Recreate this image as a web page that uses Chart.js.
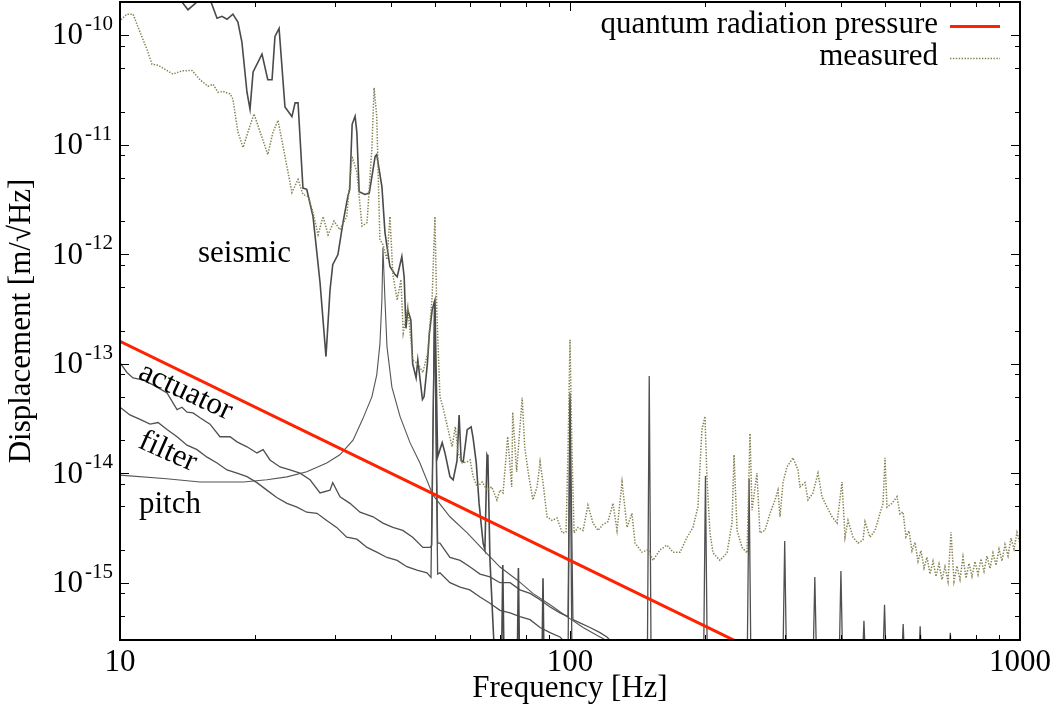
<!DOCTYPE html>
<html><head><meta charset="utf-8">
<script src="https://cdn.jsdelivr.net/npm/chart.js@4/dist/chart.umd.min.js"></script>
<style>html,body{margin:0;padding:0;background:#fff}canvas{display:block}</style>
</head><body>
<canvas id="c" width="1058" height="711"></canvas>
<script>
const FONT = '"Liberation Serif", "Times New Roman", serif';

// ---------------- data ----------------
const qrpFreq = [10, 100, 1000];
const qrpVal  = [1.6e-13, 1.6e-15, 1.6e-17];

const measuredFreq = [10.05,10.36,10.69,11.08,11.48,11.78,12.15,12.59,13.11,13.73,14.45,15.06,15.69,16.09,16.51,16.94,17.56,17.82,18.28,18.77,19.25,19.85,20.68,21.3,21.88,22.45,23.26,24.1,24.87,25.5,26.2,26.85,27.55,28.27,29.0,29.9,30.8,31.9,32.8,33.6,34.5,35.4,36.3,36.7,37.2,37.8,38.4,39.2,39.8,40.4,41.3,42.1,42.6,43.6,44.7,45.9,47.1,48.3,49.4,50.1,50.6,51.4,52.2,53.6,54.7,55.6,56.4,57.6,59.1,60.0,60.9,62.2,63.8,65.4,67.0,68.8,69.9,71.0,72.7,74.2,74.6,76.1,78.3,79.3,80.8,82.7,84.5,85.8,87.1,88.9,91.2,93.6,96.1,98.0,99.0,100,101.0,102.1,104.2,106.9,109.6,112.5,115.4,118.4,121.4,124.6,127.2,130.5,133.9,137.3,139.5,144.5,149.1,152.9,158.5,164.3,169.4,175.6,182.0,187.6,192.4,196.4,199.5,201.6,204.7,207.9,215.4,223.3,229.1,231.5,235.1,241.2,247.4,251.2,253.8,260.3,264.3,271.2,278.3,285.5,289.9,292.9,297.4,303.5,313.0,321.1,324.4,332.9,338.0,346.7,355.7,363.1,372.5,382.2,392.1,402.2,408.5,414.8,425.6,436.5,447.9,452.5,464.2,476.2,488.5,496.1,501.2,506.3,519.4,532.9,541.2,549.5,558.0,566.6,575.4,584.3,593.4,602.6,611.9,621.4,631.0,640.8,650.7,660.7,671.0,681.3,691.8,702.6,713.4,724.4,735.6,747.0,758.6,770.3,782.3,794.3,806.7,819.0,831.8,844.6,857.7,871.0,884.5,898.2,912.0,926.1,940.5,955.0,969.8,984.8,1000];
const measuredVal = [1.38e-10,1.55e-10,1.55e-10,1.06e-10,7.4e-11,5.4e-11,5.3e-11,4.85e-11,4.4e-11,4.7e-11,4.75e-11,3.9e-11,3.4e-11,3.55e-11,3.0e-11,3.05e-11,2.9e-11,2.6e-11,1.3e-11,9.4e-12,1.3e-11,1.9e-11,1.16e-11,8.1e-12,1.3e-11,1.66e-11,7.8e-12,3.65e-12,4.8e-12,3.5e-12,3.35e-12,2.4e-12,1.5e-12,2.2e-12,1.5e-12,2.0e-12,1.67e-12,2.2e-12,7.8e-12,5.6e-12,1.8e-12,1.94e-12,9.6e-12,3.3e-11,1.8e-11,1.36e-12,1.22e-12,8.9e-13,2.2e-12,6.5e-13,3.8e-13,5.85e-13,1.9e-13,3.3e-13,1.08e-13,1.0e-13,8.3e-14,1.26e-13,4.1e-13,2.2e-12,2.9e-13,5.0e-14,4.0e-14,2.5e-14,1.74e-14,2.65e-14,1.53e-14,1.24e-14,1.27e-14,1.32e-14,9.3e-15,7.5e-15,8.3e-15,7.0e-15,7.5e-15,5.7e-15,7.0e-15,6.6e-15,2.15e-14,7.5e-15,3.6e-14,1.03e-14,4.9e-14,1.74e-14,1.0e-14,5.7e-15,7.5e-15,1.27e-14,8.2e-15,4.0e-15,3.7e-15,3.9e-15,2.85e-15,2.9e-15,1.63e-14,1.65e-13,1.63e-14,2.85e-15,3.2e-15,3.0e-15,5.1e-15,3.5e-15,3.0e-15,3.4e-15,3.6e-15,5.3e-15,3.0e-15,8.3e-15,3.2e-15,4.3e-15,2.3e-15,1.9e-15,2.0e-15,1.6e-15,2.0e-15,2.2e-15,1.9e-15,1.9e-15,2.6e-15,3.2e-15,4.9e-15,2.5e-14,3.3e-14,8.7e-15,2.85e-15,1.87e-15,1.6e-15,1.87e-15,3.5e-15,1.47e-14,3.0e-15,2.1e-15,1.87e-15,2.3e-14,4.6e-15,1.0e-14,2.85e-15,3.0e-15,4.3e-15,5.7e-15,7.0e-15,4.0e-15,8.2e-15,1.14e-14,1.38e-14,1.07e-14,7.5e-15,8.2e-15,5.7e-15,6.6e-15,1.0e-14,6.1e-15,4.9e-15,4.0e-15,3.5e-15,8.3e-15,2.6e-15,3.7e-15,2.6e-15,2.3e-15,2.46e-15,3.6e-15,2.6e-15,3.0e-15,4.3e-15,5.3e-15,1.38e-14,4.9e-15,5.3e-15,6.1e-15,4.25e-15,4.43e-15,2.62e-15,2.97e-15,1.96e-15,2.34e-15,1.57e-15,1.96e-15,1.36e-15,1.71e-15,1.20e-15,1.57e-15,1.14e-15,1.48e-15,1.07e-15,1.40e-15,1.03e-15,2.9e-15,1.03e-15,1.42e-15,1.07e-15,1.72e-15,1.10e-15,1.50e-15,1.14e-15,1.56e-15,1.19e-15,1.65e-15,1.27e-15,1.75e-15,1.35e-15,1.87e-15,1.44e-15,2.02e-15,1.58e-15,2.23e-15,1.76e-15,2.55e-15,2.03e-15,2.87e-15,2.26e-15];

const seismicFreq = [10,12.27,13.73,14.16,14.83,15.37,15.93,16.43,16.85,17.29,17.82,18.28,18.66,19.15,19.45,19.76,20.68,21.3,21.77,22.1,22.57,23.26,24.1,24.5,24.87,25.5,26.0,26.85,27.83,28.69,29.29,29.7,30.5,31.3,32.1,32.4,32.8,33.3,33.6,34.0,35.0,35.8,36.9,37.2,38.2,38.8,39.8,40.85,41.3,42.3,42.8,43.2,43.6,44.3,44.7,45.5,45.9,47.0,47.4,48.2,48.7,49.4,50.1,50.8,52.0,52.8,54.1,55.0,56.1,56.7,57.3,57.9,59.1,60.3,60.9,61.9,62.8,64.1,64.7,65.4,65.7,66.4,67.7,69.0,70.4,70.9,71.4,76.3,76.8,77.3,86.6,87.1,87.6];
const seismicVal = [7.5e-10,3.6e-10,2.0e-10,1.7e-10,2.0e-10,2.5e-10,2.0e-10,1.42e-10,1.48e-10,1.39e-10,1.55e-10,1.31e-10,8.6e-11,3.0e-11,2.1e-11,4.6e-11,6.7e-11,3.9e-11,3.9e-11,9.7e-11,1.15e-10,2.2e-11,1.8e-11,2.4e-11,2.4e-11,4.0e-12,3.9e-12,2.2e-12,5.5e-13,1.16e-13,4.7e-13,8.0e-13,9.9e-13,1.94e-12,3.4e-12,3.9e-12,1.53e-11,1.81e-11,1.29e-11,3.7e-12,3.5e-12,3.6e-12,7.8e-12,8.1e-12,4.1e-12,1.57e-12,7.7e-13,6.5e-13,6.2e-13,9.5e-13,6.2e-13,2.1e-13,3.1e-13,2.5e-13,1.0e-13,7.4e-14,1.08e-13,4.7e-14,5.0e-14,1.0e-13,1.9e-13,3.1e-13,3.8e-13,1.41e-14,1.9e-14,1.5e-14,9.3e-15,8.7e-15,1.3e-14,3.4e-14,1.3e-14,1.27e-14,2.5e-14,2.65e-14,2.1e-14,1.24e-14,5.3e-15,2.3e-15,2.0e-15,1.47e-14,1.4e-14,1.6e-15,3.0e-16,1.5e-16,1.5e-16,1.45e-15,1.5e-16,1.5e-16,1.36e-15,1.5e-16,1.5e-16,1.1e-15,1.5e-16];

const pitchFreq = [10,12.7,15.06,18.8,21.2,23.5,26.0,28.8,30.8,32.95,34.6,36.3,37.2,37.8,38.2,38.4,38.8,39.2,40.2,41.9,44.1,46.4,49.6,54.1,59.1,64.1,69.9,76.3,82.7,90.3,98.5,106.9,116.6,125.9,140];
const pitchVal  = [9.6e-15,8.9e-15,8.3e-15,8.3e-15,8.7e-15,9.25e-15,1.03e-14,1.24e-14,1.47e-14,2.0e-14,3.1e-14,5.0e-14,7.9e-14,1.49e-13,3.84e-13,1.15e-12,3.8e-13,1.43e-13,6.1e-14,3.3e-14,1.9e-14,1.24e-14,6.3e-15,4.0e-15,2.85e-15,2.0e-15,1.39e-15,1.06e-15,8.0e-16,6.3e-16,4.9e-16,3.9e-16,3.2e-16,2.7e-16,2.1e-16];

const actuatorFreq = [10,10.36,10.69,11.25,11.84,12.72,13.39,13.73,14.09,14.53,15.06,15.85,16.68,17.56,18.2,19.15,20.15,20.8,21.54,22.68,23.87,25.12,26.44,27.83,29.29,29.7,30.83,32.44,34.15,36.5,38.4,40.4,42.5,44.7,47.1,48.9,49.3,50,50.8,51.4,54.1,57.0,59.9,63.1,66.4,69.9,73.6,77.4,81.5,85.8,90.3,95.0,99.0,100,101.5,105.2,110.8,116.6,120.8,124.6,129.3,140,148.5,150,151.5,198,200,202,247.5,250,252.5,297,300,303,346.5,350,353.5,396,400,404,445.5,450,454.5,495,500,505,544.5,550,555.5,594,600,606,693,700,707,1000];
const actuatorVal = [1.02e-13,8.3e-14,7.4e-14,7.1e-14,6.4e-14,5.4e-14,3.8e-14,4.0e-14,3.6e-14,3.55e-14,3.2e-14,2.8e-14,2.15e-14,2.15e-14,1.93e-14,1.74e-14,1.53e-14,1.64e-14,1.32e-14,1.14e-14,1.07e-14,1.0e-14,8.7e-15,6.6e-15,7.0e-15,8.2e-15,6.1e-15,5.3e-15,4.4e-15,4.0e-15,3.5e-15,3.2e-15,3.0e-15,2.6e-15,2.1e-15,2.1e-15,2.2e-15,3.8e-13,2.3e-15,2.3e-15,1.7e-15,1.6e-15,1.4e-15,1.2e-15,1.13e-15,1.0e-15,1.0e-15,8.6e-16,8.0e-16,7.0e-16,6.0e-16,5.3e-16,4.9e-16,5.4e-14,4.6e-16,4.3e-16,3.9e-16,3.5e-16,3.2e-16,2.8e-16,1.9e-16,1.5e-16,1.5e-16,7.7e-14,1.5e-16,1.5e-16,9.4e-15,1.5e-16,1.5e-16,8.9e-15,1.5e-16,1.5e-16,2.4e-15,1.5e-16,1.5e-16,1.13e-15,1.5e-16,1.5e-16,1.28e-15,1.5e-16,1.5e-16,4.5e-16,1.5e-16,1.5e-16,6.3e-16,1.5e-16,1.5e-16,4.2e-16,1.5e-16,1.5e-16,4.0e-16,1.5e-16,1.5e-16,3.5e-16,1.5e-16,1.5e-16];

const filterFreq = [10,10.52,11.08,11.66,12.15,12.72,13.39,14.09,14.83,15.61,16.43,17.29,18.2,19.15,20.15,21.2,22.3,23.5,24.74,26.0,27.4,28.8,30.3,31.9,33.6,35.4,37.2,39.2,41.3,43.4,45.7,48.1,49.1,50,50.8,51.4,54.1,57.0,59.9,63.1,66.4,69.9,73.6,77.4,81.5,85.8,90.3,95.0,97.9,99.0,100,101,105.2,116.6];
const filterVal  = [4.0e-14,3.4e-14,3.1e-14,2.8e-14,2.9e-14,2.5e-14,2.15e-14,1.8e-14,1.64e-14,1.4e-14,1.24e-14,1.07e-14,1.0e-14,9.3e-15,8.2e-15,7.0e-15,6.0e-15,5.3e-15,4.9e-15,4.4e-15,4.3e-15,3.7e-15,3.2e-15,2.6e-15,2.5e-15,2.1e-15,1.9e-15,1.7e-15,1.6e-15,1.4e-15,1.3e-15,1.23e-15,1.12e-15,3.3e-13,1.2e-15,1.23e-15,1.0e-15,9.1e-16,8.6e-16,7.4e-16,6.5e-16,5.6e-16,5.3e-16,4.9e-16,4.6e-16,3.9e-16,3.5e-16,3.2e-16,2.8e-16,1.9e-16,4.7e-14,1.9e-16,2.2e-16,1.8e-16];

// axis ticks
const xTickValues = [10,20,30,40,50,60,70,80,90,100,200,300,400,500,600,700,800,900,1000];
const xMajorValues = [10,100,1000];
const xTickLabels = ['10','100','1000'];
const yMajorExponents = [-15,-14,-13,-12,-11,-10];
const yMinorMantissas = [2,5,8];
const curveLabels = ['seismic','actuator','filter','pitch'];

const yMin = 3e-16, yMax = 2e-10;

function pts(fs, vs) { return fs.map((f, i) => ({ x: f, y: vs[i] })); }

function yTicks() {
  const out = [];
  for (let e = -16; e <= -10; e++) {
    const base = Math.pow(10, e);
    if (base >= yMin && base <= yMax) out.push({ value: base, major: yMajorExponents.includes(e) });
    yMinorMantissas.forEach(m => { const v = m * base; if (v >= yMin && v <= yMax) out.push({ value: v, major: false }); });
  }
  return out.sort((a, b) => a.value - b.value);
}

const decor = {
  id: 'decor',
  afterDatasetsDraw(chart) {
    const { ctx, chartArea: a, scales: { x, y } } = chart;
    ctx.save();
    // inward ticks on all sides
    ctx.strokeStyle = '#000';
    ctx.lineWidth = 1;
    ctx.beginPath();
    x.ticks.forEach(t => {
      const p = Math.round(x.getPixelForValue(t.value)) + 0.5;
      const L = t.major ? 9 : 5;
      ctx.moveTo(p, a.bottom); ctx.lineTo(p, a.bottom - L);
      ctx.moveTo(p, a.top); ctx.lineTo(p, a.top + L);
    });
    y.ticks.forEach(t => {
      const p = Math.round(y.getPixelForValue(t.value)) + 0.5;
      const L = t.major ? 9 : 5;
      ctx.moveTo(a.left, p); ctx.lineTo(a.left + L, p);
      ctx.moveTo(a.right, p); ctx.lineTo(a.right - L, p);
    });
    ctx.stroke();
    ctx.lineWidth = 2;
    ctx.strokeRect(a.left, a.top, a.right - a.left, a.bottom - a.top);

    // y tick labels 10^n
    ctx.fillStyle = '#000';
    yMajorExponents.forEach(e => {
      const p = y.getPixelForValue(Math.pow(10, e));
      ctx.font = '31px ' + FONT;
      ctx.textAlign = 'right'; ctx.textBaseline = 'alphabetic';
      ctx.fillText('10', 83, p + 9.5);
      ctx.font = '21px ' + FONT;
      ctx.textAlign = 'left';
      ctx.fillText(String(e), 85, p - 5);
    });

    // curve labels
    ctx.font = '31px ' + FONT;
    ctx.textAlign = 'left'; ctx.textBaseline = 'alphabetic';
    const placements = [
      { x: 198, y: 262, rot: 0 },
      { x: 137, y: 378, rot: 25 },
      { x: 137, y: 447, rot: 24 },
      { x: 139, y: 513, rot: 0 }
    ];
    curveLabels.forEach((txt, i) => {
      const pl = placements[i];
      ctx.save();
      ctx.translate(pl.x, pl.y);
      ctx.rotate(pl.rot * Math.PI / 180);
      ctx.fillText(txt, 0, 0);
      ctx.restore();
    });

    // legend (text then sample, right aligned)
    const legendItems = [0, 1];
    legendItems.forEach((di, i) => {
      const ds = chart.data.datasets[di];
      const base = 33 + i * 32;
      ctx.font = '31px ' + FONT;
      ctx.textAlign = 'right';
      ctx.fillStyle = '#000';
      ctx.fillText(ds.label, 938, base);
      ctx.beginPath();
      ctx.strokeStyle = ds.borderColor;
      ctx.lineWidth = ds.borderWidth;
      ctx.setLineDash(ds.borderDash || []);
      ctx.moveTo(950, base - 6.5); ctx.lineTo(1000, base - 6.5);
      ctx.stroke();
      ctx.setLineDash([]);
    });
    ctx.restore();
  }
};

new Chart(document.getElementById('c'), {
  type: 'line',
  data: {
    datasets: [
      { label: 'quantum radiation pressure', data: pts(qrpFreq, qrpVal), borderColor: '#ff2200', borderWidth: 3 },
      { label: 'measured', data: pts(measuredFreq, measuredVal), borderColor: '#858150', borderWidth: 1.5, borderDash: [1.4, 1.5] },
      { label: 'seismic', data: pts(seismicFreq, seismicVal), borderColor: '#4a4a4a', borderWidth: 1.6 },
      { label: 'pitch', data: pts(pitchFreq, pitchVal), borderColor: '#555555', borderWidth: 1.1 },
      { label: 'actuator', data: pts(actuatorFreq, actuatorVal), borderColor: '#505050', borderWidth: 1.3 },
      { label: 'filter', data: pts(filterFreq, filterVal), borderColor: '#505050', borderWidth: 1.3 }
    ]
  },
  options: {
    responsive: false,
    animation: false,
    devicePixelRatio: 1,
    layout: { padding: { left: 0, right: 38, top: 2, bottom: 0 } },
    elements: { point: { radius: 0 }, line: { tension: 0, fill: false } },
    plugins: { legend: { display: false }, tooltip: { enabled: false } },
    scales: {
      x: {
        type: 'logarithmic', min: 10, max: 1000, position: 'bottom',
        grid: { display: false, drawTicks: false },
        border: { display: false },
        afterBuildTicks: s => { s.ticks = xTickValues.map(v => ({ value: v, major: xMajorValues.includes(v) })); },
        afterFit: s => { s.height = 71; s.paddingLeft = 0; s.paddingRight = 0; },
        ticks: {
          autoSkip: false, maxRotation: 0, minRotation: 0, padding: 4, color: '#000',
          font: { family: FONT, size: 31 },
          callback: v => { const i = xMajorValues.indexOf(v); return i >= 0 ? xTickLabels[i] : ''; }
        },
        title: { display: true, text: 'Frequency [Hz]', color: '#000', font: { family: FONT, size: 31 }, padding: { top: 0, bottom: 4 } }
      },
      y: {
        type: 'logarithmic', min: yMin, max: yMax, position: 'left',
        grid: { display: false, drawTicks: false },
        border: { display: false },
        afterBuildTicks: s => { s.ticks = yTicks(); },
        afterFit: s => { s.width = 120; s.paddingTop = 0; s.paddingBottom = 0; },
        ticks: { display: false },
        title: { display: true, text: 'Displacement [m/√Hz]', color: '#000', font: { family: FONT, size: 31 }, padding: { top: 3, bottom: 0 } }
      }
    }
  },
  plugins: [decor]
});
</script>
</body></html>
